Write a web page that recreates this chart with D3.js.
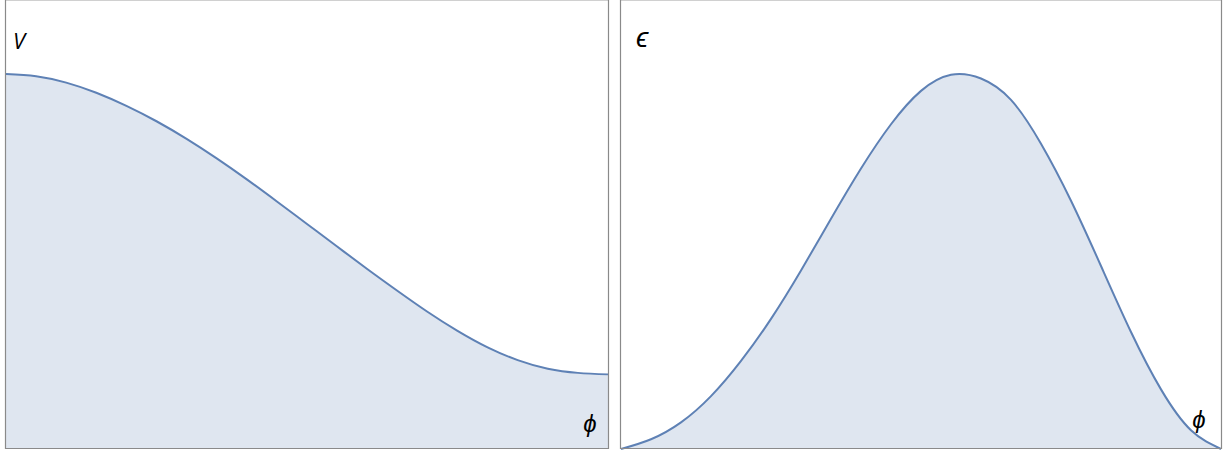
<!DOCTYPE html>
<html>
<head>
<meta charset="utf-8">
<script src="https://cdn.jsdelivr.net/npm/d3@7"></script>
<style>
	body { margin: 0; background: #fff; }
	svg { display: block; }
</style>
</head>
<body>
<script>
(function () {
	"use strict";

	// phi values (same for both panels)
	let phi = [0, 0.05, 0.1, 0.15, 0.2, 0.25, 0.3, 0.35, 0.4, 0.45, 0.5,
		0.55, 0.6, 0.65, 0.7, 0.75, 0.8, 0.85, 0.9, 0.95, 1.0];

	// potential V(phi)
	let potential = [1.0, 0.994, 0.977, 0.950, 0.915, 0.874, 0.827, 0.775, 0.719, 0.660, 0.600,
		0.540, 0.480, 0.422, 0.366, 0.315, 0.271, 0.237, 0.214, 0.203, 0.199];

	// epsilon(phi)
	let epsilon = [0, 0.026, 0.071, 0.141, 0.235, 0.347, 0.476, 0.614, 0.748, 0.866, 0.955,
		0.998, 0.988, 0.931, 0.814, 0.662, 0.488, 0.312, 0.159, 0.05, 0];

	let w = 1225;
	let h = 450;

	let lineColor = '#5e81b5';
	let fillColor = '#dfe6f0';
	let frameColor = '#8a8a8a';

	let svg = d3.select('body').append('svg').attr('width', w).attr('height', h);

	let panels = [
		{ x0: 6, x1: 608, ys: potential, yLabel: 'V', yLabelX: 13, yLabelY: 49, yLabelSize: 22, phiX: 590, phiY: 432 },
		{ x0: 621, x1: 1221, ys: epsilon, yLabel: '\u03f5', yLabelX: 636, yLabelY: 47, yLabelSize: 28, phiX: 1199, phiY: 428 }
	];

	panels.forEach(function (p) {
		let x = d3.scaleLinear().domain([0, 1]).range([p.x0, p.x1]);
		let y = d3.scaleLinear().domain([0, 1]).range([449, 74]);

		let pts = phi.map((d, i) => [d, p.ys[i]]);

		let g = svg.append('g');

		let area = d3.area()
			.x(d => x(d[0]))
			.y0(y(0))
			.y1(d => y(d[1]))
			.curve(d3.curveNatural);

		let line = d3.line()
			.x(d => x(d[0]))
			.y(d => y(d[1]))
			.curve(d3.curveNatural);

		g.append('path')
			.attr('d', area(pts))
			.style('fill', fillColor);

		g.append('path')
			.attr('d', line(pts))
			.style('fill', 'none')
			.style('stroke', lineColor)
			.style('stroke-width', 2);

		// frame
		g.append('line')
			.attr('x1', p.x0 - 0.5).attr('x2', p.x1 + 0.5)
			.attr('y1', 0.5).attr('y2', 0.5)
			.style('stroke', '#d0d0d0');
		g.append('path')
			.attr('d', 'M' + (p.x0 - 0.5) + ',0 V' + 448.5 + ' H' + (p.x1 + 0.5) + ' V0')
			.style('fill', 'none')
			.style('stroke', frameColor)
			.style('stroke-width', 1.2);

		g.append('text')
			.attr('x', p.yLabelX)
			.attr('y', p.yLabelY)
			.style('font-family', 'Open Sans, sans-serif')
			.style('font-style', 'italic')
			.style('font-size', p.yLabelSize + 'px')
			.text(p.yLabel);

		g.append('text')
			.attr('x', p.phiX)
			.attr('y', p.phiY)
			.attr('text-anchor', 'middle')
			.style('font-family', 'Open Sans, sans-serif')
			.style('font-style', 'italic')
			.style('font-size', '24px')
			.text('\u03d5');
	});
})();
</script>
</body>
</html>
